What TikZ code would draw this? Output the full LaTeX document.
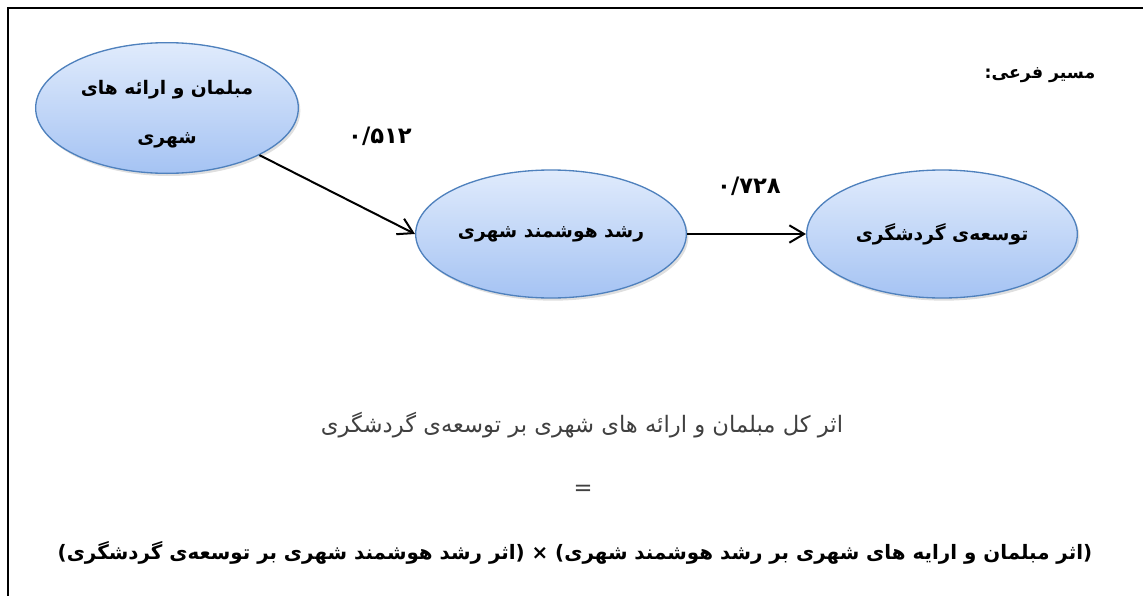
\documentclass[tikz,border=0pt]{standalone}
\usepackage{fontspec}
\usepackage{tikz}
\usetikzlibrary{arrows.meta,shapes.geometric,shadows}
\TeXXeTstate=1
\newfontfamily\farsi[Script=Arabic]{DejaVu Sans}

\definecolor{ovaltop}{HTML}{E0EBFC}
\definecolor{ovalbot}{HTML}{A5C3F3}
\definecolor{ovalline}{HTML}{4F81BD}
\definecolor{sumgray}{HTML}{404040}

\begin{document}
\begin{tikzpicture}[x=0.75pt,y=-0.75pt,
	oval/.style={ellipse,draw=ovalline,line width=1pt,top color=ovaltop,bottom color=ovalbot,
		minimum width=203pt,minimum height=96pt,inner sep=0pt,align=center,
		font=\farsi\bfseries\fontsize{14}{37}\selectfont,
		drop shadow={opacity=0.25,shadow xshift=1.5pt,shadow yshift=-2pt}},
	effect/.style={line width=1.5pt,-{Straight Barb[length=11pt,width=13pt]}},
	coef/.style={font=\farsi\bfseries\fontsize{17}{20}\selectfont}]
	\useasboundingbox (0,0) rectangle (1143,596);
	\clip (0,0) rectangle (1143,596);
	\draw[line width=1.5pt] (7.5,700)--(7.5,7.5)--(1200,7.5);		%frame
	
	\node[oval,minimum width=197pt,minimum height=98pt] (mobl) at (167,108) {};
	\node[align=center,font=\farsi\bfseries\fontsize{14}{37}\selectfont] (mobltxt) at (167,114)
		{\beginR مبلمان و ارائه های\endR\\\beginR شهری\endR};
	\node[oval] (roshd) at (551,234) {\beginR رشد هوشمند شهری\endR};
	\node[oval] (tose) at (942,234) {\beginR توسعه‌ی گردشگری\endR};
	
	\draw[effect] (mobl.-27)--(roshd.west);
	\draw[effect] (roshd.east)--(tose.west);
	
	%labels
	\node[coef] (b1) at (380,136) {۰/۵۱۲};
	\node[coef] (b2) at (749,186) {۰/۷۲۸};
	\node[font=\farsi\bfseries\fontsize{13}{16}\selectfont] (sub) at (1040,75) {\beginR مسیر فرعی:\endR};
	%
	\node[font=\farsi\fontsize{17}{20}\selectfont,text=sumgray] (total) at (582,425)
		{\beginR اثر کل مبلمان و ارائه های شهری بر توسعه‌ی گردشگری\endR};
	\node[font=\farsi\fontsize{17}{20}\selectfont,text=sumgray] (eq) at (583,490) {=};
	\node[font=\farsi\bfseries\fontsize{14.9}{18}\selectfont] (prod) at (575,553)
		{\beginR (اثر مبلمان و ارایه های شهری بر رشد هوشمند شهری) × (اثر رشد هوشمند شهری بر توسعه‌ی گردشگری)\endR};
\end{tikzpicture}
\end{document}
